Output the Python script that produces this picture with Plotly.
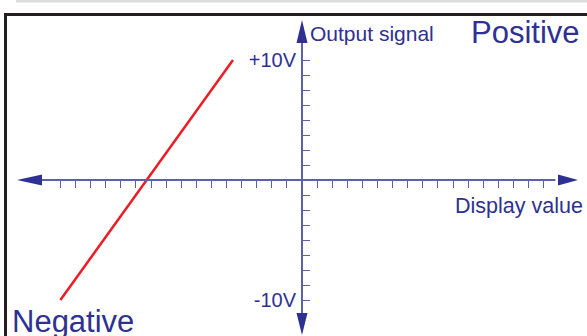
import plotly.graph_objects as go

# transfer characteristic (display value in tick units, output in volts)
display_value = [-16.0, -4.57]
output_signal = [-10.0, 10.0]

x_ticks = [v for v in range(-16, 17) if v != 0]
y_ticks = [-10 + 1.25 * i for i in range(17) if i != 8]
y_label_vals = [-10, 10]
y_label_text = ["-10V", "+10V"]

W, H = 587, 336
PX_X = 15.1   # pixels per display unit
PX_Y = 12.0   # pixels per volt
X0_PX, Y0_PX = 302, 180  # where the two axes cross

x_range = [-X0_PX / PX_X, (W - X0_PX) / PX_X]
y_range = [-(H - Y0_PX) / PX_Y, Y0_PX / PX_Y]

NAVY = "#2e3192"
AXIS = "#5d61ab"
FONT = "Liberation Sans, Arial, Helvetica, sans-serif"

x_pos = (0 - y_range[0]) / (y_range[1] - y_range[0])
y_pos = (0 - x_range[0]) / (x_range[1] - x_range[0])

fig = go.Figure()
fig.add_trace(go.Scatter(
    x=display_value,
    y=output_signal,
    mode="lines",
    line=dict(color="#ed1c24", width=2.5),
    showlegend=False,
    hoverinfo="skip",
))
# invisible trace so the label axis exists
fig.add_trace(go.Scatter(x=[0], y=[0], yaxis="y2", mode="markers",
                         marker=dict(opacity=0), showlegend=False,
                         hoverinfo="skip"))

# arrow tips in data units
x_tip_l, x_tip_r = (17 - X0_PX) / PX_X, (578 - X0_PX) / PX_X
y_tip_t, y_tip_b = (Y0_PX - 20) / PX_Y, (Y0_PX - 335) / PX_Y

shapes = [
    # grey strip and black frame
    dict(type="rect", xref="paper", yref="paper", x0=16 / W, x1=1,
         y0=1 - 2.5 / H, y1=1, fillcolor="#dcdcdc", line=dict(width=0), layer="below"),
    dict(type="rect", xref="paper", yref="paper", x0=5.5 / W, x1=1.05,
         y0=-0.05, y1=1 - 14.5 / H, line=dict(color="#231f20", width=3), layer="below"),
    # axis lines
    dict(type="line", xref="x", yref="y", x0=x_tip_l + 1.5, x1=x_tip_r - 1.5, y0=0, y1=0,
         line=dict(color=AXIS, width=2)),
    dict(type="line", xref="x", yref="y", x0=0, x1=0, y0=y_tip_b + 1.5, y1=y_tip_t - 1.5,
         line=dict(color=AXIS, width=2)),
    # arrow heads
    dict(type="path", xref="x", yref="y", xsizemode="pixel", ysizemode="pixel",
         xanchor=x_tip_l, yanchor=0, path="M 0 0 L 25 5.5 L 25 -5.5 Z",
         fillcolor=NAVY, line=dict(width=0)),
    dict(type="path", xref="x", yref="y", xsizemode="pixel", ysizemode="pixel",
         xanchor=x_tip_r, yanchor=0, path="M 0 0 L -20 5.5 L -20 -5.5 Z",
         fillcolor=NAVY, line=dict(width=0)),
    dict(type="path", xref="x", yref="y", xsizemode="pixel", ysizemode="pixel",
         xanchor=0, yanchor=y_tip_t, path="M 0 0 L 5.5 -23 L -5.5 -23 Z",
         fillcolor=NAVY, line=dict(width=0)),
    dict(type="path", xref="x", yref="y", xsizemode="pixel", ysizemode="pixel",
         xanchor=0, yanchor=y_tip_b, path="M 0 0 L 5.5 22 L -5.5 22 Z",
         fillcolor=NAVY, line=dict(width=0)),
]

annotations = [
    dict(text="Output signal", x=308 / W, y=1 - 34 / H, xanchor="left", yanchor="middle",
         font=dict(size=21, color=NAVY)),
    dict(text="Positive", x=582 / W, y=1 - 33 / H, xanchor="right", yanchor="middle",
         font=dict(size=31, color=NAVY)),
    dict(text="Display value", x=585 / W, y=1 - 206 / H, xanchor="right", yanchor="middle",
         font=dict(size=21.5, color=NAVY)),
    dict(text="Negative", x=10 / W, y=1 - 321 / H, xanchor="left", yanchor="middle",
         font=dict(size=31, color=NAVY)),
]
for a in annotations:
    a.update(xref="paper", yref="paper", showarrow=False)

fig.update_layout(
    width=W,
    height=H,
    margin=dict(l=0, r=0, t=0, b=0),
    paper_bgcolor="white",
    plot_bgcolor="white",
    font=dict(family=FONT, color=NAVY),
    shapes=shapes,
    annotations=annotations,
    xaxis=dict(
        range=x_range, domain=[0, 1], anchor="free", position=x_pos,
        showgrid=False, zeroline=False, showline=False,
        tickmode="array", tickvals=x_ticks, ticks="outside",
        ticklen=7, tickwidth=1.3, tickcolor=AXIS, showticklabels=False,
        fixedrange=True,
    ),
    yaxis=dict(
        range=y_range, domain=[0, 1], anchor="free", position=y_pos, side="right",
        showgrid=False, zeroline=False, showline=False,
        tickmode="array", tickvals=y_ticks, ticks="outside",
        ticklen=7, tickwidth=1.3, tickcolor=AXIS, showticklabels=False,
        fixedrange=True,
    ),
    yaxis2=dict(
        range=y_range, overlaying="y", anchor="free", position=y_pos, side="left",
        showgrid=False, zeroline=False, showline=False,
        tickmode="array", tickvals=y_label_vals, ticktext=y_label_text, ticks="",
        ticklabelstandoff=6, tickfont=dict(size=20, color=NAVY),
        fixedrange=True,
    ),
)

# the page body has a default margin; drop it so the figure fills the window
fig.write_html(
    "out.html",
    config={"displayModeBar": False},
    post_script="document.body.style.margin='0';document.body.style.overflow='hidden';",
)
